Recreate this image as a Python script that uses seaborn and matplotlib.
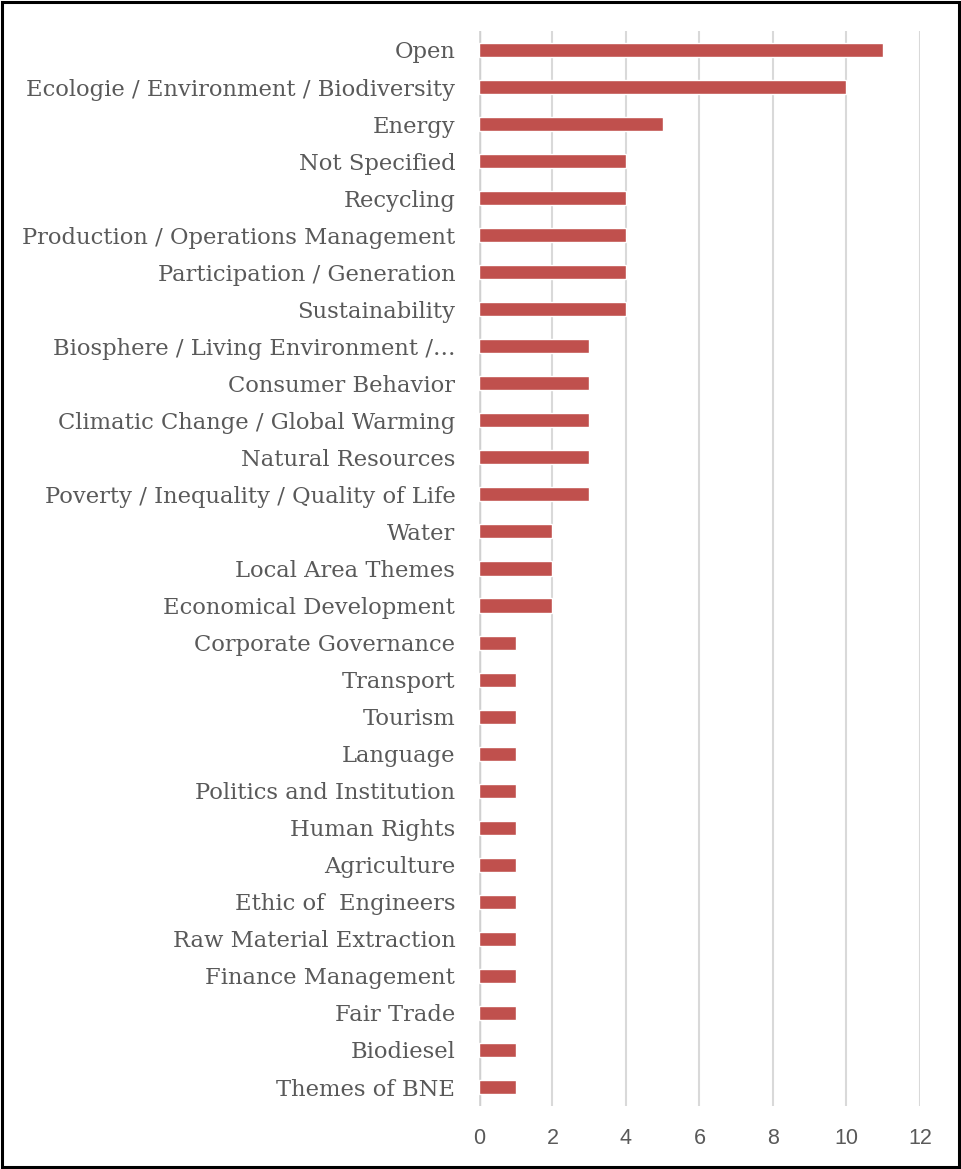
"""Horizontal bar chart: number of courses per sustainability theme."""

import matplotlib.pyplot as plt
import pandas as pd
import seaborn as sns
from matplotlib.patches import Rectangle

themes = [
    "Open",
    "Ecologie / Environment / Biodiversity",
    "Energy",
    "Not Specified",
    "Recycling",
    "Production / Operations Management",
    "Participation / Generation",
    "Sustainability",
    "Biosphere / Living Environment /…",
    "Consumer Behavior",
    "Climatic Change / Global Warming",
    "Natural Resources",
    "Poverty / Inequality / Quality of Life",
    "Water",
    "Local Area Themes",
    "Economical Development",
    "Corporate Governance",
    "Transport",
    "Tourism",
    "Language",
    "Politics and Institution",
    "Human Rights",
    "Agriculture",
    "Ethic of  Engineers",
    "Raw Material Extraction",
    "Finance Management",
    "Fair Trade",
    "Biodiesel",
    "Themes of BNE",
]
counts = [11, 10, 5, 4, 4, 4, 4, 4, 3, 3, 3, 3, 3, 2, 2, 2,
          1, 1, 1, 1, 1, 1, 1, 1, 1, 1, 1, 1, 1]
x_ticks = [0, 2, 4, 6, 8, 10, 12]

df = pd.DataFrame({"theme": themes, "count": counts})

sns.set_theme(style="white")
plt.rcParams["font.family"] = ["DejaVu Serif"]

fig = plt.figure(figsize=(9.61, 11.69), dpi=100)
ax = fig.add_axes([0.4984, 0.0543, 0.4589, 0.9188])

sns.barplot(data=df, x="count", y="theme", orient="h", color="#C0504D",
            saturation=1, width=0.38, ax=ax)

ax.set_xlim(0, 12)
ax.set_xticks(x_ticks)
ax.xaxis.grid(True, color="#D9D9D9", linewidth=1.5)
ax.set_axisbelow(True)
ax.axvline(0, color="#D0D0D0", linewidth=2.5, zorder=0.5)
for side in ["top", "right", "bottom", "left"]:
    ax.spines[side].set_visible(False)
ax.set_xlabel("")
ax.set_ylabel("")
ax.tick_params(axis="y", length=0, pad=17, labelsize=16.3, labelcolor="#595959")
ax.tick_params(axis="x", length=0, pad=16, labelcolor="#595959")
for lbl in ax.get_xticklabels():
    lbl.set_family(["Liberation Sans", "DejaVu Sans"])
    lbl.set_fontsize(15.5)

# outer frame around the whole chart
fig.patches.append(Rectangle((0.002, 0.002), 0.996, 0.996, transform=fig.transFigure,
                             fill=False, edgecolor="black", linewidth=2.2))

fig.savefig("out.png", dpi=100)
